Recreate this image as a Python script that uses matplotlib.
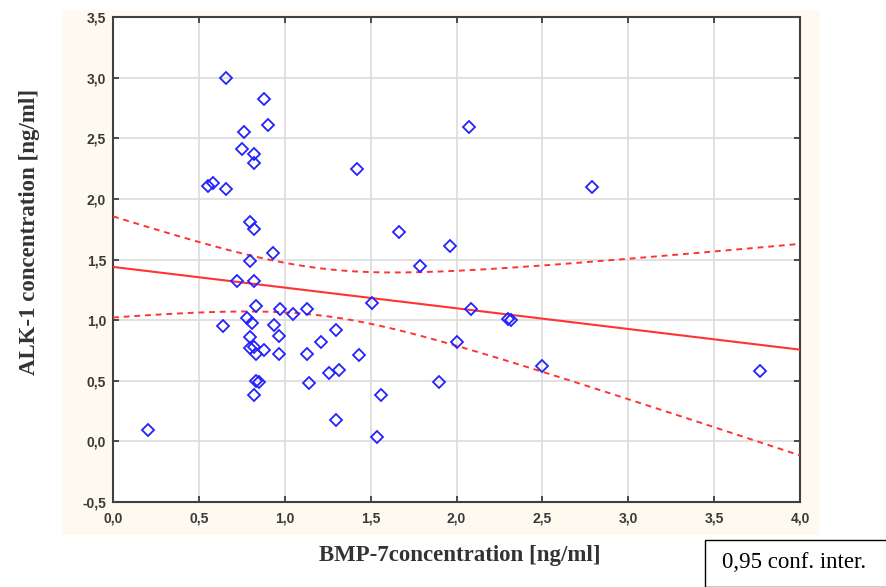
import numpy as np
import matplotlib
matplotlib.use("Agg")
import matplotlib.pyplot as plt
from matplotlib.patches import Rectangle
from matplotlib.ticker import FuncFormatter

# ---- data ----
bmp7 = [0.66, 0.88, 0.90, 0.76, 0.75, 0.82, 0.82, 0.555, 0.58, 0.66,
        0.80, 0.82, 0.93, 0.80, 0.72, 0.82, 0.83, 0.97, 1.05, 1.13,
        0.78, 0.81, 0.64, 0.94, 0.965, 0.80, 0.82, 0.80, 0.88, 0.83,
        0.965, 1.13, 0.83, 0.85, 0.82, 1.14, 1.506, 1.30, 1.21, 1.43,
        1.256, 1.314, 1.90, 1.56, 1.30, 1.54, 2.00, 2.07, 1.42, 2.79,
        1.665, 1.964, 1.79, 2.085, 2.30, 2.32, 2.50, 3.77, 0.205]
alk1 = [3.00, 2.82, 2.61, 2.55, 2.41, 2.37, 2.30, 2.11, 2.13, 2.08,
        1.81, 1.75, 1.55, 1.49, 1.32, 1.32, 1.12, 1.09, 1.05, 1.09,
        1.02, 0.98, 0.95, 0.96, 0.87, 0.86, 0.78, 0.77, 0.755, 0.72,
        0.72, 0.72, 0.50, 0.49, 0.385, 0.48, 1.14, 0.92, 0.82, 0.715,
        0.563, 0.59, 0.49, 0.38, 0.18, 0.035, 0.82, 2.59, 2.25, 2.10,
        1.73, 1.61, 1.45, 1.09, 1.01, 1.00, 0.62, 0.58, 0.09]

x_ticks = [0.0, 0.5, 1.0, 1.5, 2.0, 2.5, 3.0, 3.5, 4.0]
y_ticks = [-0.5, 0.0, 0.5, 1.0, 1.5, 2.0, 2.5, 3.0, 3.5]
conf_level_t = 2.002  # t(0.975, df=57)

W, H = 886, 587
fig = plt.figure(figsize=(W / 100, H / 100), dpi=100)
fig.patch.set_facecolor("white")

# cream background panel
bg = Rectangle((62 / W, 1 - 535 / H), (820 - 62) / W, (535 - 10) / H,
               transform=fig.transFigure, facecolor="#FFFAF0",
               edgecolor="none", zorder=-10)
fig.add_artist(bg)

ax = fig.add_axes([113 / W, 1 - 502 / H, (800 - 113) / W, (502 - 17) / H])
ax.set_zorder(5)
ax.set_facecolor("white")
ax.set_xlim(0, 4.0)
ax.set_ylim(-0.5, 3.5)
ax.set_xticks(x_ticks)
ax.set_yticks(y_ticks)
fmt = FuncFormatter(lambda v, p: f"{v:.1f}".replace(".", ",").replace("-0,0", "0,0"))
ax.xaxis.set_major_formatter(fmt)
ax.yaxis.set_major_formatter(fmt)
ax.grid(True, color="#DCDCDC", linewidth=1.2, zorder=0)
ax.set_axisbelow(True)
ax.tick_params(direction="in", top=True, right=True, length=4, width=1.2,
               color="#303030", labelsize=10, labelcolor="#3a3a3a")
ax.tick_params(axis="x", pad=7)
ax.tick_params(axis="y", pad=5)
for lab in ax.get_xticklabels() + ax.get_yticklabels():
    lab.set_fontfamily("Liberation Sans")
    lab.set_fontweight("bold")
for s in ax.spines.values():
    s.set_color("#404040")
    s.set_linewidth(1.5)

X = np.array(bmp7)
Y = np.array(alk1)
n = len(X)
b, a = np.polyfit(X, Y, 1)
resid = Y - (a + b * X)
s_err = np.sqrt(np.sum(resid ** 2) / (n - 2))
xm = X.mean()
sxx = np.sum((X - xm) ** 2)
xs = np.linspace(0, 4.0, 300)
yh = a + b * xs
half = conf_level_t * s_err * np.sqrt(1 / n + (xs - xm) ** 2 / sxx)

ax.plot(xs, yh, color="#FF3333", linewidth=1.5, zorder=3)
ax.plot(xs, yh + half, color="#FF3333", linewidth=1.4, linestyle=(0, (3, 2.5)), zorder=3)
ax.plot(xs, yh - half, color="#FF3333", linewidth=1.4, linestyle=(0, (3, 2.5)), zorder=3)

ax.plot(X, Y, linestyle="none", marker="D", markersize=6.5, markerfacecolor="none",
        markeredgecolor="#2222FF", markeredgewidth=1.3, zorder=4)

fig.text(30 / W, 1 - 232 / H, "ALK-1 concentration [ng/ml]", rotation=90,
         ha="center", va="center", fontsize=16.5, fontweight="bold",
         family="Liberation Serif", color="#333333")
fig.text(460 / W, 1 - 556 / H, "BMP-7concentration [ng/ml]",
         ha="center", va="center", fontsize=16.5, fontweight="bold",
         family="Liberation Serif", color="#333333")

fig.add_artist(Rectangle((705 / W, 0), (W - 705) / W + 0.01, (587 - 540) / H,
                         transform=fig.transFigure, facecolor="white",
                         edgecolor="black", linewidth=1.0, zorder=6))
fig.text(794 / W, 1 - 563 / H, "0,95 conf. inter.", ha="center", va="center",
         fontsize=16.5, family="Liberation Serif", color="black", zorder=7)

fig.savefig("out.png", dpi=100)
